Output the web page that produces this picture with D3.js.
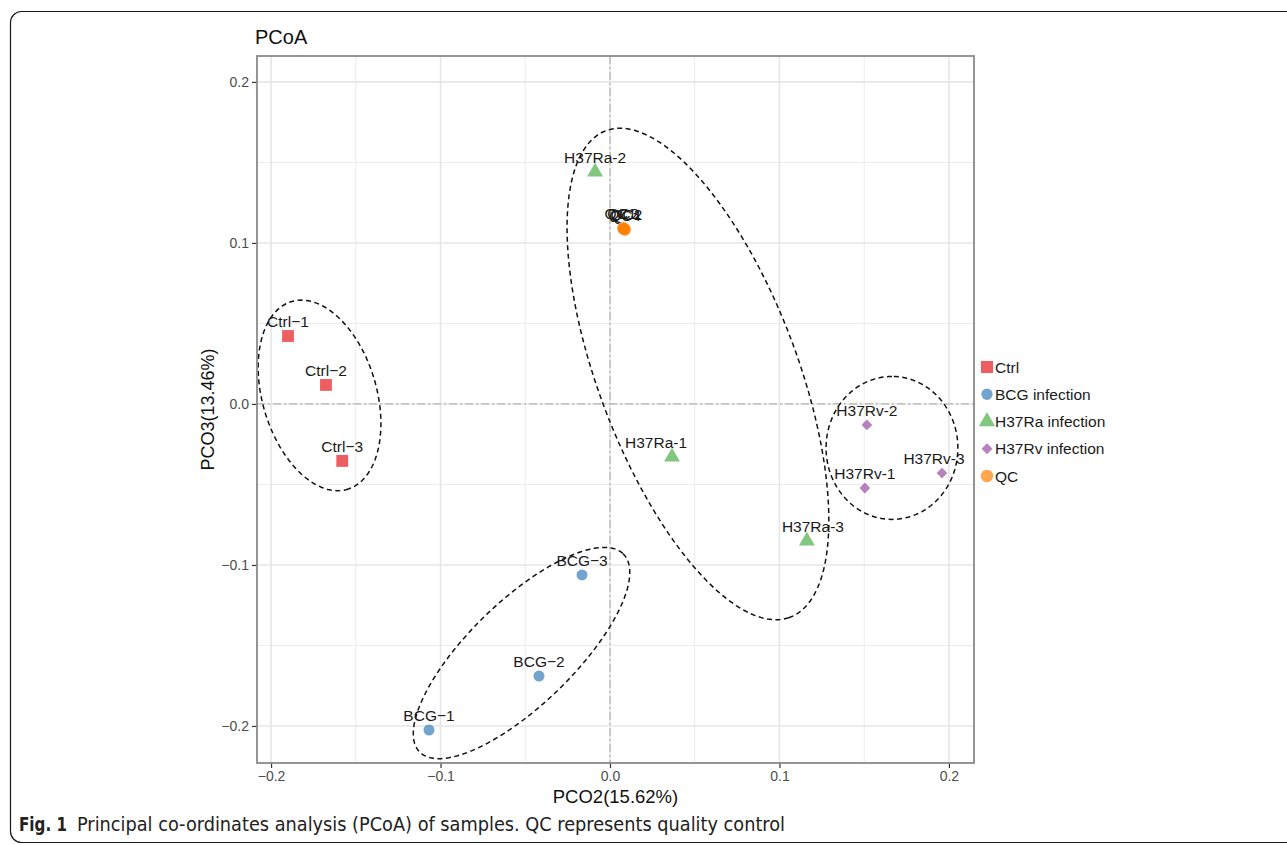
<!DOCTYPE html>
<html>
<head>
<meta charset="utf-8">
<script src="https://cdn.jsdelivr.net/npm/d3@7"></script>
<style>
  body { margin: 0; background: #fff; }
  svg text { font-family: "Liberation Sans", Arial, Helvetica, sans-serif; }
</style>
</head>
<body>
<svg id="chart" width="1287" height="845"></svg>
<script>
// ---- data ----
const groups = ["Ctrl", "BCG infection", "H37Ra infection", "H37Rv infection", "QC"];
const groupColors = ["#E41A1C", "#377EB8", "#4DAF4A", "#984EA3", "#FF7F00"];

const sampleNames = ["Ctrl\u22121", "Ctrl\u22122", "Ctrl\u22123", "BCG\u22121", "BCG\u22122", "BCG\u22123",
  "H37Ra-1", "H37Ra-2", "H37Ra-3", "H37Rv-1", "H37Rv-2", "H37Rv-3",
  "QC1", "QC2", "QC3", "QC4"];
const sampleGroup = ["Ctrl", "Ctrl", "Ctrl", "BCG infection", "BCG infection", "BCG infection",
  "H37Ra infection", "H37Ra infection", "H37Ra infection",
  "H37Rv infection", "H37Rv infection", "H37Rv infection",
  "QC", "QC", "QC", "QC"];
const pco2 = [-0.190, -0.1676, -0.158, -0.1068, -0.0419, -0.0165,
  0.0366, -0.0088, 0.1162, 0.1504, 0.1516, 0.1959,
  0.0080, 0.0085, 0.0078, 0.0088];
const pco3 = [0.0422, 0.0118, -0.0354, -0.2025, -0.169, -0.1062,
  -0.0329, 0.1441, -0.0851, -0.0522, -0.013, -0.0429,
  0.1090, 0.1085, 0.1092, 0.1082];

// confidence ellipses per group (centre, semi-axes, rotation in degrees)
const ellipseGroups = ["Ctrl", "BCG infection", "H37Ra infection", "H37Rv infection"];
const ellipseCx = [-0.1714, -0.0522, 0.0519, 0.1664];
const ellipseCy = [0.0053, -0.1547, 0.0186, -0.0273];
const ellipseA = [0.0606, 0.086, 0.1606, 0.0444];
const ellipseB = [0.0338, 0.0315, 0.059, 0.0389];
const ellipseAngle = [-75, 46, -70.5, 90];

const xTicks = [-0.2, -0.1, 0.0, 0.1, 0.2];
const yTicks = [-0.2, -0.1, 0.0, 0.1, 0.2];
const xMinor = [-0.15, -0.05, 0.05, 0.15];
const yMinor = [-0.15, -0.05, 0.05, 0.15];

// small label shifts (px) where the labels were moved sideways
const labelShift = { "H37Ra-1": -16, "H37Rv-3": -8, "H37Ra-3": 6, "QC1": -3, "QC2": 2 };

// ---- layout ----
const panel = { left: 257, right: 974, top: 56, bottom: 763 };
const svg = d3.select("#chart");

svg.append("rect")
  .attr("x", 10.5).attr("y", 11.5)
  .attr("width", 1320).attr("height", 831)
  .attr("rx", 11)
  .attr("fill", "none").attr("stroke", "#1a1a1a").attr("stroke-width", 1.2);

const x = d3.scaleLinear().domain([-0.2083, 0.2148]).range([panel.left, panel.right]);
const y = d3.scaleLinear().domain([-0.223, 0.2161]).range([panel.bottom, panel.top]);
const color = d3.scaleOrdinal().domain(groups).range(groupColors);
const shape = d3.scaleOrdinal().domain(groups)
  .range([d3.symbolSquare, d3.symbolCircle, d3.symbolTriangle, "diamond", d3.symbolCircle]);
const symSize = { "Ctrl": 140, "BCG infection": 95, "H37Ra infection": 110, "H37Rv infection": 58, "QC": 115 };

function symbolPath(g, scale) {
  const s = symSize[g] * (scale || 1);
  if (shape(g) === "diamond") {
    return d3.symbol().type(d3.symbolSquare).size(s)();
  }
  return d3.symbol().type(shape(g)).size(s)();
}

// ---- grid ----
const grid = svg.append("g");
grid.selectAll(".xminor").data(xMinor).join("line")
  .attr("x1", d => x(d)).attr("x2", d => x(d))
  .attr("y1", panel.top).attr("y2", panel.bottom)
  .attr("stroke", "#ebebeb").attr("stroke-width", 1);
grid.selectAll(".yminor").data(yMinor).join("line")
  .attr("y1", d => y(d)).attr("y2", d => y(d))
  .attr("x1", panel.left).attr("x2", panel.right)
  .attr("stroke", "#ebebeb").attr("stroke-width", 1);
grid.selectAll(".xmajor").data(xTicks).join("line")
  .attr("x1", d => x(d)).attr("x2", d => x(d))
  .attr("y1", panel.top).attr("y2", panel.bottom)
  .attr("stroke", "#e6e6e6").attr("stroke-width", 1.6);
grid.selectAll(".ymajor").data(yTicks).join("line")
  .attr("y1", d => y(d)).attr("y2", d => y(d))
  .attr("x1", panel.left).attr("x2", panel.right)
  .attr("stroke", "#e6e6e6").attr("stroke-width", 1.6);

// zero lines (dot-dash)
svg.append("line")
  .attr("x1", x(0)).attr("x2", x(0)).attr("y1", panel.top).attr("y2", panel.bottom)
  .attr("stroke", "#b5b5b5").attr("stroke-width", 1.3).attr("stroke-dasharray", "8,3,2,3");
svg.append("line")
  .attr("y1", y(0)).attr("y2", y(0)).attr("x1", panel.left).attr("x2", panel.right)
  .attr("stroke", "#b5b5b5").attr("stroke-width", 1.3).attr("stroke-dasharray", "8,3,2,3");

// ---- ellipses ----
const ellipseLine = d3.line().x(p => x(p[0])).y(p => y(p[1]));
ellipseGroups.forEach((g, i) => {
  const phi = ellipseAngle[i] * Math.PI / 180;
  const pts = d3.range(0, 361, 3).map(deg => {
    const t = deg * Math.PI / 180;
    const ex = ellipseA[i] * Math.cos(t), ey = ellipseB[i] * Math.sin(t);
    return [ellipseCx[i] + ex * Math.cos(phi) - ey * Math.sin(phi),
            ellipseCy[i] + ex * Math.sin(phi) + ey * Math.cos(phi)];
  });
  svg.append("path")
    .attr("d", ellipseLine(pts))
    .attr("fill", "none")
    .attr("stroke", "#111")
    .attr("stroke-width", 1.5)
    .attr("stroke-dasharray", "5,3.5");
});

// ---- points ----
const samples = sampleNames.map((n, i) => ({ name: n, group: sampleGroup[i], x: pco2[i], y: pco3[i] }));

svg.append("g").selectAll("path").data(samples).join("path")
  .attr("d", d => symbolPath(d.group))
  .attr("transform", d => `translate(${x(d.x)},${y(d.y)})` + (shape(d.group) === "diamond" ? " rotate(45)" : ""))
  .attr("fill", d => color(d.group))
  .attr("fill-opacity", 0.7);

svg.append("g").selectAll("text").data(samples).join("text")
  .attr("x", d => x(d.x) + (labelShift[d.name] || 0))
  .attr("y", d => y(d.y) - 9)
  .attr("text-anchor", "middle")
  .attr("font-size", 15.5)
  .attr("fill", "#1a1a1a")
  .text(d => d.name);

// ---- axes ----
const xAxis = svg.append("g")
  .attr("transform", `translate(0,${panel.bottom})`)
  .call(d3.axisBottom(x).tickValues(xTicks).tickSize(5).tickPadding(3).tickFormat(d3.format(".1f")));
const yAxis = svg.append("g")
  .attr("transform", `translate(${panel.left},0)`)
  .call(d3.axisLeft(y).tickValues(yTicks).tickSize(5).tickPadding(3).tickFormat(d3.format(".1f")));
[xAxis, yAxis].forEach(a => {
  a.select(".domain").remove();
  a.selectAll(".tick line").attr("stroke", "#333").attr("stroke-width", 1.2);
  a.selectAll(".tick text").attr("fill", "#4d4d4d").attr("font-size", 14)
    .style("font-family", "'Liberation Sans', Arial, sans-serif");
});

// panel border
svg.append("rect")
  .attr("x", panel.left).attr("y", panel.top)
  .attr("width", panel.right - panel.left).attr("height", panel.bottom - panel.top)
  .attr("fill", "none").attr("stroke", "#8a8a8a").attr("stroke-width", 1.8);

// titles
svg.append("text").attr("x", panel.left - 2).attr("y", 44)
  .attr("font-size", 20).attr("fill", "#111").text("PCoA");
svg.append("text").attr("x", (panel.left + panel.right) / 2).attr("y", 803)
  .attr("text-anchor", "middle").attr("font-size", 18.5).attr("fill", "#111")
  .text("PCO2(15.62%)");
svg.append("text")
  .attr("transform", `translate(214,${(panel.top + panel.bottom) / 2}) rotate(-90)`)
  .attr("text-anchor", "middle").attr("font-size", 18).attr("fill", "#111")
  .text("PCO3(13.46%)");

// ---- legend ----
const legendY = d3.scalePoint().domain(groups).range([367, 476]);
const legend = svg.append("g");
groups.forEach(g => {
  legend.append("path")
    .attr("d", symbolPath(g, 1.05))
    .attr("transform", `translate(987,${legendY(g)})` + (shape(g) === "diamond" ? " rotate(45)" : ""))
    .attr("fill", color(g)).attr("fill-opacity", 0.7);
  legend.append("text")
    .attr("x", 995).attr("y", legendY(g) + 5.5)
    .attr("font-size", 15.5).attr("fill", "#1a1a1a")
    .text(g);
});

// ---- caption ----
svg.append("text").attr("x", 19).attr("y", 831)
  .attr("font-size", 20).attr("font-weight", "bold").attr("fill", "#222")
  .style("font-family", "'Liberation Sans Narrow', 'DejaVu Sans Condensed', sans-serif")
  .attr("textLength", 48).attr("lengthAdjust", "spacingAndGlyphs")
  .text("Fig. 1");
svg.append("text").attr("x", 77).attr("y", 831)
  .attr("font-size", 20).attr("fill", "#222")
  .style("font-family", "'Liberation Sans Narrow', 'DejaVu Sans Condensed', sans-serif")
  .attr("textLength", 708).attr("lengthAdjust", "spacingAndGlyphs")
  .text("Principal co-ordinates analysis (PCoA) of samples. QC represents quality control");
</script>
</body>
</html>
